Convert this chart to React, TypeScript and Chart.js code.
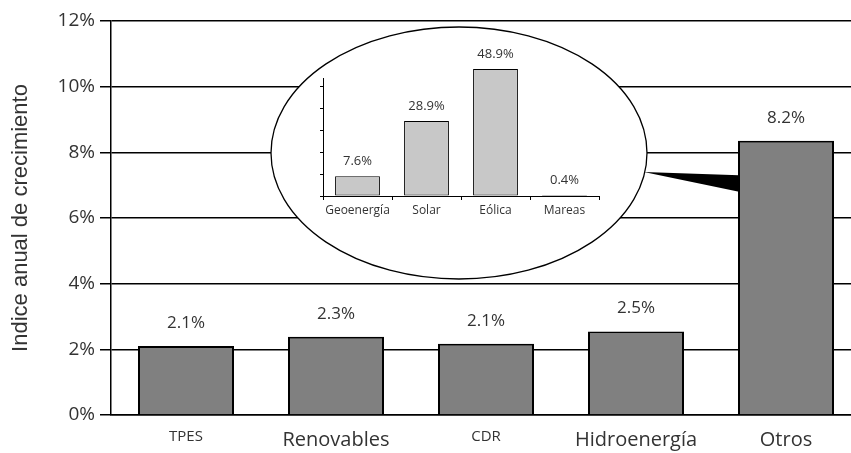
import { useEffect, useRef } from 'react';
import { Chart, registerables } from 'chart.js';
Chart.register(...registerables);

// ---- main chart data ----
const categories = ['TPES', 'Renovables', 'CDR', 'Hidroenergía', 'Otros'];
const growthValues = [2.1, 2.38, 2.17, 2.54, 8.35];
const growthLabels = ['2.1%', '2.3%', '2.1%', '2.5%', '8.2%'];
const yTickValues = [0, 2, 4, 6, 8, 10, 12];
const smallCategoryLabels = ['TPES', 'CDR'];

// ---- inset data ----
const insetCategories = ['Geoenergía', 'Solar', 'Eólica', 'Mareas'];
const insetValues = [7.6, 28.9, 48.9, 0.4];
const insetLabels = ['7.6%', '28.9%', '48.9%', '0.4%'];
const insetTickValues = [0, 8.4, 16.8, 25.2, 33.6, 42];

const FONT = "'Open Sans', sans-serif";
const TEXT = '#333333';
const ELLIPSE = { cx: 459, cy: 153, rx: 188, ry: 126 };

const mainDecor = {
  id: 'mainDecor',
  afterDatasetsDraw(chart: any) {
    const ctx = chart.ctx;
    const yScale = chart.scales.y;
    ctx.save();
    // ellipse (inset frame)
    ctx.beginPath();
    ctx.ellipse(ELLIPSE.cx, ELLIPSE.cy, ELLIPSE.rx, ELLIPSE.ry, 0, 0, Math.PI * 2);
    ctx.fillStyle = '#ffffff';
    ctx.fill();
    ctx.lineWidth = 1.3;
    ctx.strokeStyle = '#000000';
    ctx.stroke();

    // callout wedge to the "Otros" bar
    const meta = chart.getDatasetMeta(0);
    const bar = meta.data[4];
    const barLeft = bar.x - bar.width / 2;
    const apexY = 172;
    const apexX = ELLIPSE.cx + ELLIPSE.rx * Math.sqrt(1 - Math.pow((apexY - ELLIPSE.cy) / ELLIPSE.ry, 2));
    ctx.beginPath();
    ctx.moveTo(apexX - 1, apexY);
    ctx.lineTo(barLeft + 1, yScale.getPixelForValue(7.3));
    ctx.lineTo(barLeft + 1, yScale.getPixelForValue(6.8));
    ctx.closePath();
    ctx.fillStyle = '#000000';
    ctx.fill();

    // value labels
    ctx.fillStyle = TEXT;
    ctx.font = `17px ${FONT}`;
    ctx.textAlign = 'center';
    ctx.textBaseline = 'middle';
    meta.data.forEach((el: any, i: number) => {
      ctx.fillText(growthLabels[i], el.x, el.y - 23);
    });
    ctx.restore();
  },
};

const insetDecor = {
  id: 'insetDecor',
  afterDatasetsDraw(chart: any) {
    const ctx = chart.ctx;
    const meta = chart.getDatasetMeta(0);
    ctx.save();
    ctx.fillStyle = TEXT;
    ctx.font = `13px ${FONT}`;
    ctx.textAlign = 'center';
    ctx.textBaseline = 'middle';
    meta.data.forEach((el: any, i: number) => {
      ctx.fillText(insetLabels[i], el.x, el.y - 15);
    });
    ctx.restore();
  },
};

export default function App() {
  const mainRef = useRef<HTMLCanvasElement | null>(null);
  const insetRef = useRef<HTMLCanvasElement | null>(null);

  useEffect(() => {
    const main = new Chart(mainRef.current as HTMLCanvasElement, {
      type: 'bar',
      data: {
        labels: categories,
        datasets: [
          {
            data: growthValues,
            backgroundColor: '#808080',
            borderColor: '#000000',
            borderWidth: 2,
            barPercentage: 0.64,
            categoryPercentage: 1,
          },
        ],
      },
      options: {
        responsive: false,
        animation: false,
        layout: { padding: { top: 21, left: 0, right: 0, bottom: 0 } },
        plugins: { legend: { display: false }, tooltip: { enabled: false } },
        scales: {
          x: {
            grid: { display: true, drawOnChartArea: false, drawTicks: false },
            border: { display: true, color: '#000000', width: 1.5 },
            ticks: {
              color: TEXT,
              padding: 13,
              maxRotation: 0,
              minRotation: 0,
              autoSkip: false,
              font: (c: any) => ({
                family: FONT,
                size: smallCategoryLabels.includes(categories[c.index]) ? 15 : 20,
              }),
            },
            afterFit: (s: any) => {
              s.height = 38;
            },
          },
          y: {
            min: 0,
            max: 12,
            afterBuildTicks: (s: any) => {
              s.ticks = yTickValues.map((v) => ({ value: v }));
            },
            ticks: {
              callback: (v: any) => v + '%',
              color: TEXT,
              font: { family: FONT, size: 19 },
              padding: 5,
            },
            grid: { color: '#000000', lineWidth: 1.5, tickLength: 11 },
            border: { color: '#000000', width: 1.5 },
            title: {
              display: true,
              text: 'Indice anual de crecimiento',
              color: TEXT,
              font: { family: "'Liberation Sans', Arial, sans-serif", size: 22 },
              padding: { top: 8, bottom: 0 },
            },
            afterFit: (s: any) => {
              s.width = 111;
            },
          },
        },
      },
      plugins: [mainDecor],
    } as any);

    const inset = new Chart(insetRef.current as HTMLCanvasElement, {
      type: 'bar',
      data: {
        labels: insetCategories,
        datasets: [
          {
            data: insetValues,
            backgroundColor: '#c8c8c8',
            borderColor: '#000000',
            borderWidth: 1,
            borderSkipped: false,
            barPercentage: 0.65,
            categoryPercentage: 1,
            clip: false,
          },
        ],
      },
      options: {
        responsive: false,
        animation: false,
        layout: { padding: { top: 38, right: 21, left: 0, bottom: 0 } },
        plugins: { legend: { display: false }, tooltip: { enabled: false } },
        scales: {
          x: {
            grid: { drawOnChartArea: false, color: '#000000', lineWidth: 1, tickLength: 4 },
            border: { color: '#000000', width: 1 },
            ticks: {
              color: TEXT,
              font: { family: FONT, size: 12 },
              padding: 3,
              maxRotation: 0,
              minRotation: 0,
              autoSkip: false,
            },
            afterFit: (s: any) => {
              s.height = 34;
            },
          },
          y: {
            min: 0,
            max: 45.4,
            afterBuildTicks: (s: any) => {
              s.ticks = insetTickValues.map((v) => ({ value: v }));
            },
            grid: { drawOnChartArea: false, color: '#000000', lineWidth: 1, tickLength: 3 },
            border: { color: '#000000', width: 1 },
            ticks: { color: 'rgba(0,0,0,0)', font: { size: 8 }, padding: 0 },
            afterFit: (s: any) => {
              s.width = 33;
            },
          },
        },
      },
      plugins: [insetDecor],
    } as any);

    return () => {
      main.destroy();
      inset.destroy();
    };
  }, []);

  return (
    <div
      style={{
        position: 'fixed',
        left: 0,
        top: 0,
        width: 851,
        height: 453,
        overflow: 'hidden',
        background: '#ffffff',
      }}
    >
      <div style={{ position: 'absolute', left: 0, top: 0 }}>
        <canvas ref={mainRef} width={861} height={453} style={{ display: 'block' }} />
      </div>
      <div style={{ position: 'absolute', left: 290, top: 40 }}>
        <canvas ref={insetRef} width={330} height={190} style={{ display: 'block' }} />
      </div>
    </div>
  );
}
